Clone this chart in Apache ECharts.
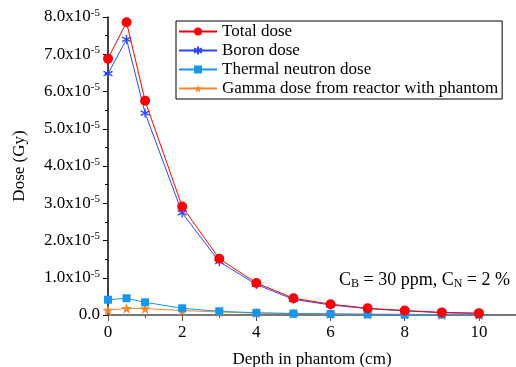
<!DOCTYPE html>
<html>
<head>
<meta charset="utf-8">
<script src="https://cdn.jsdelivr.net/npm/echarts@6/dist/echarts.min.js"></script>
<style>
  html, body { margin: 0; padding: 0; background: #fff; }
  #chart { width: 516px; height: 367px; }
</style>
</head>
<body>
<div id="chart"></div>
<script>
// depth in phantom (cm)
var depth = [0, 0.5, 1, 2, 3, 4, 5, 6, 7, 8, 9, 10];
// dose values, in units of 1e-5 Gy
var totalDose = [6.88, 7.86, 5.75, 2.91, 1.51, 0.86, 0.45, 0.29, 0.18, 0.12, 0.07, 0.05];
var boronDose = [6.48, 7.40, 5.42, 2.74, 1.43, 0.82, 0.42, 0.27, 0.17, 0.11, 0.06, 0.04];
var thermalDose = [0.41, 0.45, 0.34, 0.18, 0.10, 0.06, 0.04, 0.03, 0.02, 0.01, 0.01, 0.01];
var gammaDose = [0.13, 0.18, 0.17, 0.12, 0.08, 0.05, 0.04, 0.03, 0.02, 0.02, 0.01, 0.01];
var seriesNames = ["Total dose", "Boron dose", "Thermal neutron dose", "Gamma dose from reactor with phantom"];
var yTicks = [0, 1, 2, 3, 4, 5, 6, 7, 8];
var xTicks = [0, 2, 4, 6, 8, 10];

function pairs(ys) {
  return depth.map(function (d, i) { return [d, ys[i]]; });
}

var font = "Liberation Serif";
var asterisk = "path://M5,0L5,10M0.7,2.5L9.3,7.5M0.7,7.5L9.3,2.5";

var myChart = echarts.init(document.getElementById("chart"));
var option = {
  animation: false,
  backgroundColor: "#fff",
  textStyle: { fontFamily: font },
  grid: { left: 108, right: 0, top: 17, bottom: 52, outerBoundsMode: "none", containLabel: false },
  legend: {
    orient: "vertical",
    left: 176,
    top: 21,
    padding: [2, 4, 2, 2],
    itemWidth: 38,
    itemHeight: 10,
    itemGap: 2,
    borderColor: "#000",
    borderWidth: 1,
    textStyle: { fontFamily: font, fontSize: 17, color: "#000" },
    data: seriesNames
  },
  xAxis: {
    type: "value",
    min: 0,
    max: 11,
    interval: 2,
    name: "Depth in phantom (cm)",
    nameLocation: "middle",
    nameGap: 36,
    nameTextStyle: { fontFamily: font, fontSize: 17, color: "#000" },
    axisLine: { lineStyle: { color: "#777", width: 2 } },
    axisTick: { length: 6, lineStyle: { color: "#555" } },
    minorTick: { show: true, splitNumber: 2, length: 3, lineStyle: { color: "#555" } },
    splitLine: { show: false },
    axisLabel: {
      fontFamily: font, fontSize: 17, color: "#000", margin: 9, showMaxLabel: false,
      formatter: function (v) { return xTicks.indexOf(v) >= 0 ? String(v) : ""; }
    }
  },
  yAxis: {
    type: "value",
    min: 0,
    max: 8,
    interval: 1,
    name: "Dose (Gy)",
    nameLocation: "middle",
    nameGap: 80,
    nameTextStyle: { fontFamily: font, fontSize: 17, color: "#000" },
    axisLine: { show: true, lineStyle: { color: "#000", width: 1.5 } },
    axisTick: { length: 5, lineStyle: { color: "#000" } },
    minorTick: { show: true, splitNumber: 2, length: 3, lineStyle: { color: "#000" } },
    splitLine: { show: false },
    axisLabel: {
      fontFamily: font, fontSize: 17, color: "#000", margin: 8,
      formatter: function (v) {
        if (yTicks.indexOf(v) < 0) return "";
        if (v === 0) return "0.0";
        return v.toFixed(1) + "x10{sup|-5}";
      },
      rich: {
        sup: { fontFamily: font, fontSize: 11, color: "#000", verticalAlign: "top", padding: [0, 0, 8, 0] }
      }
    }
  },
  graphic: [{
    type: "text",
    left: 339,
    top: 271,
    style: {
      text: "C{sub|B} = 30 ppm, C{sub|N} = 2 %",
      font: "18px " + font,
      fill: "#000",
      rich: {
        sub: { fontFamily: font, fontSize: 12, fill: "#000", verticalAlign: "bottom", padding: [8, 0, 0, 0] }
      }
    }
  }],
  series: [
    {
      name: seriesNames[3], type: "line", data: pairs(gammaDose), z: 2,
      symbol: "path://M5,0L6.2,3.6L10,3.6L6.9,5.9L8.1,9.5L5,7.3L1.9,9.5L3.1,5.9L0,3.6L3.8,3.6Z",
      symbolSize: 11,
      lineStyle: { color: "#f5872f", width: 1 },
      itemStyle: { color: "#f5872f" }
    },
    {
      name: seriesNames[2], type: "line", data: pairs(thermalDose), z: 3,
      symbol: "rect", symbolSize: 8,
      lineStyle: { color: "#1597ee", width: 1 },
      itemStyle: { color: "#1597ee" }
    },
    {
      name: seriesNames[1], type: "line", data: pairs(boronDose), z: 4,
      symbol: asterisk, symbolSize: 9,
      lineStyle: { color: "#2b48ff", width: 1 },
      itemStyle: { color: "transparent", borderColor: "#2b48ff", borderWidth: 1.3 }
    },
    {
      name: seriesNames[0], type: "line", data: pairs(totalDose), z: 5,
      symbol: "circle", symbolSize: 10,
      lineStyle: { color: "#ff0000", width: 1 },
      itemStyle: { color: "#ff0000" }
    }
  ]
};
myChart.setOption(option);
</script>
</body>
</html>
